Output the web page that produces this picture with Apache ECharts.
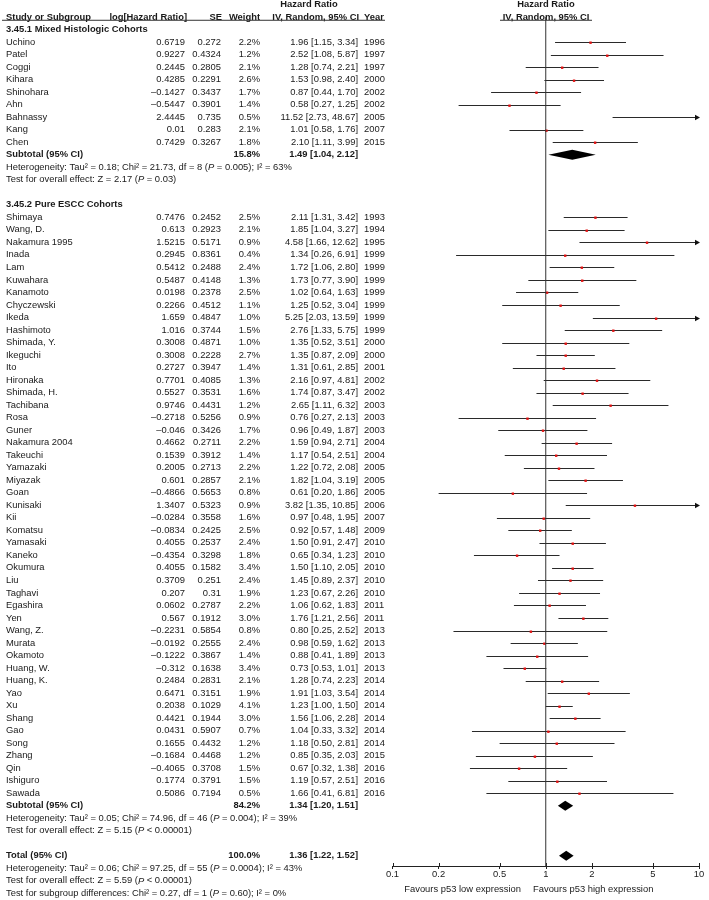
<!DOCTYPE html>
<html>
<head>
<meta charset="utf-8">
<script src="https://cdn.jsdelivr.net/npm/echarts@6/dist/echarts.min.js"></script>
<style>
html,body{margin:0;padding:0;background:#fff;}
#chart{width:709px;height:900px;}
</style>
</head>
<body>
<div id="chart"></div>
<script>
// ---------------- DATA ----------------
const mixedStudies = ['Uchino','Patel','Coggi','Kihara','Shinohara','Ahn','Bahnassy','Kang','Chen'];
const mixedLogHR = [0.6719,0.9227,0.2445,0.4285,-0.1427,-0.5447,2.4445,0.01,0.7429];
const mixedSE = [0.272,0.4324,0.2805,0.2291,0.3437,0.3901,0.735,0.283,0.3267];
const mixedWeight = [2.2,1.2,2.1,2.6,1.7,1.4,0.5,2.1,1.8];
const mixedHR = [1.96,2.52,1.28,1.53,0.87,0.58,11.52,1.01,2.10];
const mixedLower = [1.15,1.08,0.74,0.98,0.44,0.27,2.73,0.58,1.11];
const mixedUpper = [3.34,5.87,2.21,2.40,1.70,1.25,48.67,1.76,3.99];
const mixedYear = [1996,1997,1997,2000,2002,2002,2005,2007,2015];

const esccStudies = ['Shimaya','Wang, D.','Nakamura 1995','Inada','Lam','Kuwahara','Kanamoto','Chyczewski','Ikeda','Hashimoto','Shimada, Y.','Ikeguchi','Ito','Hironaka','Shimada, H.','Tachibana','Rosa','Guner','Nakamura 2004','Takeuchi','Yamazaki','Miyazak','Goan','Kunisaki','Kii','Komatsu','Yamasaki','Kaneko','Okumura','Liu','Taghavi','Egashira','Yen','Wang, Z.','Murata','Okamoto','Huang, W.','Huang, K.','Yao','Xu','Shang','Gao','Song','Zhang','Qin','Ishiguro','Sawada'];
const esccLogHR = [0.7476,0.613,1.5215,0.2945,0.5412,0.5487,0.0198,0.2266,1.659,1.016,0.3008,0.3008,0.2727,0.7701,0.5527,0.9746,-0.2718,-0.046,0.4662,0.1539,0.2005,0.601,-0.4866,1.3407,-0.0284,-0.0834,0.4055,-0.4354,0.4055,0.3709,0.207,0.0602,0.567,-0.2231,-0.0192,-0.1222,-0.312,0.2484,0.6471,0.2038,0.4421,0.0431,0.1655,-0.1684,-0.4065,0.1774,0.5086];
const esccSE = [0.2452,0.2923,0.5171,0.8361,0.2488,0.4148,0.2378,0.4512,0.4847,0.3744,0.4871,0.2228,0.3947,0.4085,0.3531,0.4431,0.5256,0.3426,0.2711,0.3912,0.2713,0.2857,0.5653,0.5323,0.3558,0.2425,0.2537,0.3298,0.1582,0.251,0.31,0.2787,0.1912,0.5854,0.2555,0.3867,0.1638,0.2831,0.3151,0.1029,0.1944,0.5907,0.4432,0.4468,0.3708,0.3791,0.7194];
const esccWeight = [2.5,2.1,0.9,0.4,2.4,1.3,2.5,1.1,1.0,1.5,1.0,2.7,1.4,1.3,1.6,1.2,0.9,1.7,2.2,1.4,2.2,2.1,0.8,0.9,1.6,2.5,2.4,1.8,3.4,2.4,1.9,2.2,3.0,0.8,2.4,1.4,3.4,2.1,1.9,4.1,3.0,0.7,1.2,1.2,1.5,1.5,0.5];
const esccHR = [2.11,1.85,4.58,1.34,1.72,1.73,1.02,1.25,5.25,2.76,1.35,1.35,1.31,2.16,1.74,2.65,0.76,0.96,1.59,1.17,1.22,1.82,0.61,3.82,0.97,0.92,1.50,0.65,1.50,1.45,1.23,1.06,1.76,0.80,0.98,0.88,0.73,1.28,1.91,1.23,1.56,1.04,1.18,0.85,0.67,1.19,1.66];
const esccLower = [1.31,1.04,1.66,0.26,1.06,0.77,0.64,0.52,2.03,1.33,0.52,0.87,0.61,0.97,0.87,1.11,0.27,0.49,0.94,0.54,0.72,1.04,0.20,1.35,0.48,0.57,0.91,0.34,1.10,0.89,0.67,0.62,1.21,0.25,0.59,0.41,0.53,0.74,1.03,1.00,1.06,0.33,0.50,0.35,0.32,0.57,0.41];
const esccUpper = [3.42,3.27,12.62,6.91,2.80,3.90,1.63,3.04,13.59,5.75,3.51,2.09,2.85,4.81,3.47,6.32,2.13,1.87,2.71,2.51,2.08,3.19,1.86,10.85,1.95,1.48,2.47,1.23,2.05,2.37,2.26,1.83,2.56,2.52,1.62,1.89,1.01,2.23,3.54,1.50,2.28,3.32,2.81,2.03,1.38,2.51,6.81];
const esccYear = [1993,1994,1995,1999,1999,1999,1999,1999,1999,1999,2000,2000,2001,2002,2002,2003,2003,2003,2004,2004,2005,2005,2005,2006,2007,2009,2010,2010,2010,2010,2010,2011,2011,2013,2013,2013,2013,2014,2014,2014,2014,2014,2014,2015,2016,2016,2016];

const summaryLabels = ['Subtotal (95% CI)','Subtotal (95% CI)','Total (95% CI)'];
const summaryWeight = [15.8,84.2,100.0];
const summaryHR = [1.49,1.34,1.36];
const summaryLower = [1.04,1.20,1.22];
const summaryUpper = [2.12,1.51,1.52];

const axisTickValues = [0.1,0.2,0.5,1,2,5,10];

// ---------------- LAYOUT ----------------
const ROW = 12.52, TOP = 4.5, AXIS_Y = 866;
const PLOT_MAX_ROW = (AXIS_Y - TOP) / ROW;
const TABLE_MAX_ROW = 72;
const FONT = '"Liberation Sans", Arial, Helvetica, sans-serif';
const FS = 9.4;
const TXT = '#1a1a1a';

const fmtNum = v => (v < 0 ? '\u2013' + String(-v) : String(v));
const fmtCI = (h, l, u) => h.toFixed(2) + ' [' + l.toFixed(2) + ', ' + u.toFixed(2) + ']';

const COL = {name: 6, logHR: 185, se: 221, weight: 260, ci: 358, year: 364};

const texts = [];
function T(x, row, text, align, bold, rich) {
  texts.push({x, row, text, align: align || 'left', bold: !!bold, rich: rich || null});
}
const plotStudies = [];
const plotDiamonds = [];

// headers
T(309, 0, 'Hazard Ratio', 'center', true);
T(546, 0, 'Hazard Ratio', 'center', true);
T(COL.name, 1, 'Study or Subgroup', 'left', true);
T(187, 1, 'log[Hazard Ratio]', 'right', true);
T(222, 1, 'SE', 'right', true);
T(COL.weight, 1, 'Weight', 'right', true);
T(359, 1, 'IV, Random, 95% CI', 'right', true);
T(COL.year, 1, 'Year', 'left', true);
T(546, 1, 'IV, Random, 95% CI', 'center', true);

function addStudies(startRow, names, lhr, se, w, hr, lo, hi, yr) {
  names.forEach((n, i) => {
    const r = startRow + i;
    T(COL.name, r, n, 'left');
    T(COL.logHR, r, fmtNum(lhr[i]), 'right');
    T(COL.se, r, String(se[i]), 'right');
    T(COL.weight, r, w[i].toFixed(1) + '%', 'right');
    T(COL.ci, r, fmtCI(hr[i], lo[i], hi[i]), 'right');
    T(COL.year, r, String(yr[i]), 'left');
    plotStudies.push({row: r, hr: hr[i], lo: lo[i], hi: hi[i]});
  });
}
function addSummary(k, row) {
  T(COL.name, row, summaryLabels[k], 'left', true);
  T(COL.weight, row, summaryWeight[k].toFixed(1) + '%', 'right', true);
  T(COL.ci, row, fmtCI(summaryHR[k], summaryLower[k], summaryUpper[k]), 'right', true);
  plotDiamonds.push({row, hr: summaryHR[k], lo: summaryLower[k], hi: summaryUpper[k]});
}
function P(pre, post) { return '{n|' + pre + '}{i|P}{n|' + post + '}'; }

T(COL.name, 2, '3.45.1 Mixed Histologic Cohorts', 'left', true);
addStudies(3, mixedStudies, mixedLogHR, mixedSE, mixedWeight, mixedHR, mixedLower, mixedUpper, mixedYear);
addSummary(0, 12);
T(COL.name, 13, '', 'left', false, P('Heterogeneity: Tau\u00b2 = 0.18; Chi\u00b2 = 21.73, df = 8 (', ' = 0.005); I\u00b2 = 63%'));
T(COL.name, 14, '', 'left', false, P('Test for overall effect: Z = 2.17 (', ' = 0.03)'));

T(COL.name, 16, '3.45.2 Pure ESCC Cohorts', 'left', true);
addStudies(17, esccStudies, esccLogHR, esccSE, esccWeight, esccHR, esccLower, esccUpper, esccYear);
addSummary(1, 64);
T(COL.name, 65, '', 'left', false, P('Heterogeneity: Tau\u00b2 = 0.05; Chi\u00b2 = 74.96, df = 46 (', ' = 0.004); I\u00b2 = 39%'));
T(COL.name, 66, '', 'left', false, P('Test for overall effect: Z = 5.15 (', ' < 0.00001)'));

addSummary(2, 68);
T(COL.name, 69, '', 'left', false, P('Heterogeneity: Tau\u00b2 = 0.06; Chi\u00b2 = 97.25, df = 55 (', ' = 0.0004); I\u00b2 = 43%'));
T(COL.name, 70, '', 'left', false, P('Test for overall effect: Z = 5.59 (', ' < 0.00001)'));
T(COL.name, 71, '', 'left', false, P('Test for subgroup differences: Chi\u00b2 = 0.27, df = 1 (', ' = 0.60); I\u00b2 = 0%'));

const favRow = (889 - TOP) / ROW;
T(521, favRow, 'Favours p53 low expression', 'right');
T(533, favRow, 'Favours p53 high expression', 'left');

const UL_ROW = 1.26;

// ---------------- CHART ----------------
const chart = echarts.init(document.getElementById('chart'), null, {renderer: 'canvas'});
const L = v => Math.log10(v);

const option = {
  animation: false,
  backgroundColor: '#fff',
  grid: [
    {left: 0, top: TOP, width: 709, height: TABLE_MAX_ROW * ROW, containLabel: false, outerBoundsMode: 'none'},
    {left: 392.5, top: TOP, width: 306.5, height: AXIS_Y - TOP, containLabel: false, outerBoundsMode: 'none'}
  ],
  xAxis: [
    {gridIndex: 0, type: 'value', min: 0, max: 709, show: false},
    {gridIndex: 1, type: 'value', min: -1, max: 1, position: 'bottom',
      axisLine: {show: true, onZero: false, lineStyle: {color: '#222', width: 1}},
      axisTick: {show: true, length: 3, lineStyle: {color: '#222'}, customValues: axisTickValues.map(L)},
      axisLabel: {show: true, margin: 4, color: TXT, fontSize: FS, fontFamily: FONT,
        customValues: axisTickValues.map(L),
        formatter: v => String(parseFloat(Math.pow(10, v).toPrecision(2)))},
      splitLine: {show: false}}
  ],
  yAxis: [
    {gridIndex: 0, type: 'value', min: 0, max: TABLE_MAX_ROW, inverse: true, show: false},
    {gridIndex: 1, type: 'value', min: 0, max: PLOT_MAX_ROW, inverse: true, show: false}
  ],
  series: [
    // header underlines
    {type: 'line', xAxisIndex: 0, yAxisIndex: 0, symbol: 'none', silent: true,
      lineStyle: {color: '#333', width: 1}, data: [[2, UL_ROW], [385, UL_ROW]]},
    {type: 'line', xAxisIndex: 0, yAxisIndex: 0, symbol: 'none', silent: true,
      lineStyle: {color: '#333', width: 1}, data: [[500, UL_ROW], [592, UL_ROW]]},
    // line of no effect
    {type: 'line', xAxisIndex: 1, yAxisIndex: 1, symbol: 'none', silent: true,
      lineStyle: {color: '#333', width: 1}, data: [[0, 1.0], [0, PLOT_MAX_ROW]]},
    // upward half of axis ticks
    {type: 'custom', xAxisIndex: 1, yAxisIndex: 1, silent: true, clip: false,
      data: axisTickValues.map(v => [L(v), PLOT_MAX_ROW]),
      renderItem: function (params, api) {
        const p = api.coord([api.value(0), api.value(1)]);
        const x = Math.round(p[0]) + 0.5;
        return {type: 'line', shape: {x1: x, y1: p[1] - 3, x2: x, y2: p[1]},
          style: {stroke: '#222', lineWidth: 1}};
      }},
    // table texts
    {type: 'custom', xAxisIndex: 0, yAxisIndex: 0, silent: true,
      data: texts.map(t => [t.x, t.row]),
      renderItem: function (params, api) {
        const t = texts[params.dataIndex];
        const p = api.coord([t.x, t.row]);
        const style = {
          x: p[0], y: p[1], text: t.rich ? t.rich : t.text,
          align: t.align, verticalAlign: 'middle',
          fill: TXT, fontSize: FS, fontFamily: FONT,
          fontWeight: t.bold ? 'bold' : 'normal'
        };
        if (t.rich) {
          style.rich = {
            n: {fontSize: FS, fontFamily: FONT, fill: TXT, color: TXT},
            i: {fontSize: FS, fontFamily: FONT, fontStyle: 'italic', fill: TXT, color: TXT}
          };
        }
        return {type: 'text', style: style};
      }},
    // study CIs
    {type: 'custom', xAxisIndex: 1, yAxisIndex: 1, silent: true, clip: false,
      data: plotStudies.map(s => [L(s.hr), s.row]),
      renderItem: function (params, api) {
        const s = plotStudies[params.dataIndex];
        const y = Math.round(api.coord([0, s.row])[1]) + 0.5;
        const lo = Math.max(-1, L(s.lo)), hi = Math.min(1, L(s.hi));
        const x1 = api.coord([lo, s.row])[0], x2 = api.coord([hi, s.row])[0];
        const children = [{type: 'line', shape: {x1: x1, y1: y, x2: x2, y2: y},
          style: {stroke: '#2a2a2a', lineWidth: 1}}];
        if (s.hi > 10) {
          children.push({type: 'polygon', shape: {points: [[x2 + 1, y], [x2 - 4, y - 2.8], [x2 - 4, y + 2.8]]},
            style: {fill: '#111'}});
        }
        if (s.hr <= 10 && s.hr >= 0.1) {
          const xc = api.coord([L(s.hr), s.row])[0];
          children.push({type: 'rect', shape: {x: xc - 1.2, y: y - 1.0, width: 2.4, height: 2.4},
            style: {fill: '#e01010'}});
        }
        return {type: 'group', children: children};
      }},
    // diamonds
    {type: 'custom', xAxisIndex: 1, yAxisIndex: 1, silent: true, clip: false,
      data: plotDiamonds.map(d => [L(d.hr), d.row]),
      renderItem: function (params, api) {
        const d = plotDiamonds[params.dataIndex];
        const pc = api.coord([L(d.hr), d.row]);
        const xl = api.coord([L(d.lo), d.row])[0];
        const xh = api.coord([L(d.hi), d.row])[0];
        const h = 5;
        return {type: 'polygon', shape: {points: [[xl, pc[1]], [pc[0], pc[1] - h], [xh, pc[1]], [pc[0], pc[1] + h]]},
          style: {fill: '#000'}};
      }}
  ]
};
chart.setOption(option);
</script>
</body>
</html>
